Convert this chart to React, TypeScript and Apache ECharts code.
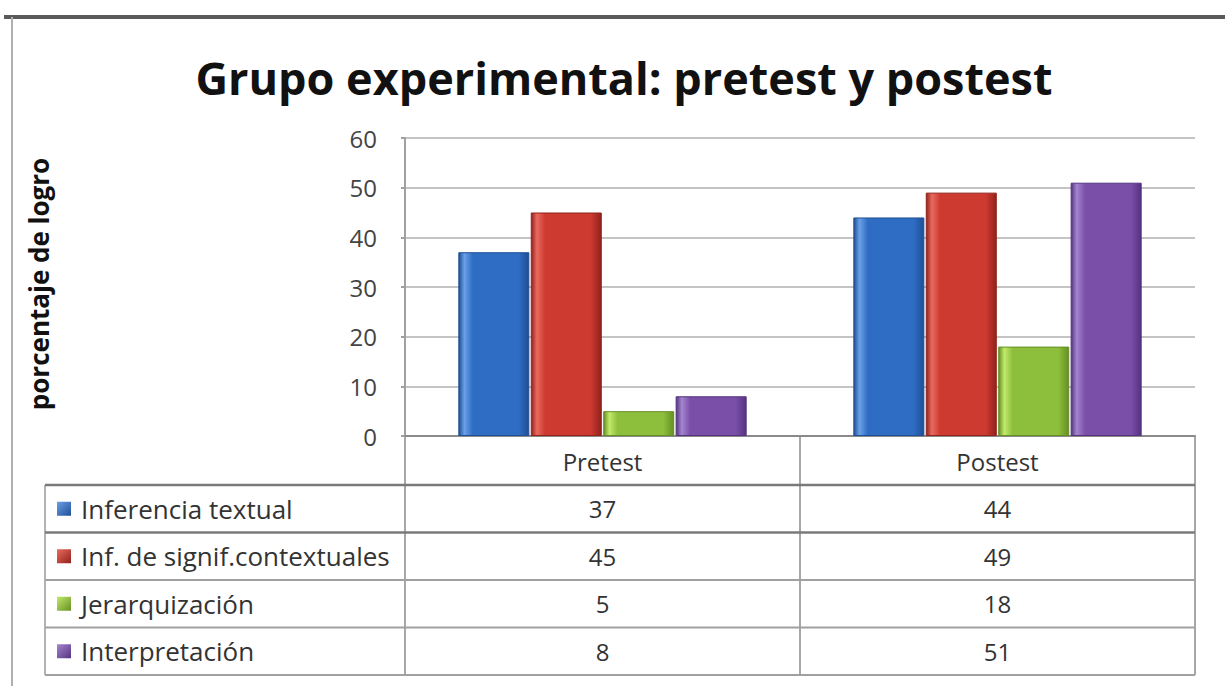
import React, { useEffect, useRef } from "react";
import * as echarts from "echarts";

// ---- data ----
const title = "Grupo experimental: pretest y postest";
const yAxisName = "porcentaje de logro";
const categories = ["Pretest", "Postest"];
const seriesNames = [
  "Inferencia textual",
  "Inf. de signif.contextuales",
  "Jerarquización",
  "Interpretación",
];
const inferenciaTextual = [37, 44];
const infSignifContextuales = [45, 49];
const jerarquizacion = [5, 18];
const interpretacion = [8, 51];
const seriesValues = [inferenciaTextual, infSignifContextuales, jerarquizacion, interpretacion];
const yMin = 0;
const yMax = 60;
const yInterval = 10;

// ---- style ----
const palette = [
  { light: "#6aa0e6", base: "#2f6dc4", dark: "#1f4f95" },
  { light: "#ea6a5f", base: "#cc3a30", dark: "#92221c" },
  { light: "#c2ea6a", base: "#8dbf3c", dark: "#668f25" },
  { light: "#a485cf", base: "#7a4fa8", dark: "#553380" },
];
const FONT = "'Open Sans', 'Noto Sans', sans-serif";

const W = 1225;
const H = 686;
const gridLeft = 405;
const gridRight = 1195;
const gridTop = 138;
const gridBottom = 436;
const headerBottom = 485;
const rowH = 47.5;
const tableLeft = 45;

export default function App() {
  const ref = useRef<HTMLDivElement>(null);

  useEffect(() => {
    if (!ref.current) return;
    const chart = echarts.init(ref.current, null, { renderer: "svg" });

    const colW = (gridRight - gridLeft) / categories.length;
    const graphics: any[] = [];

    // outer frame lines
    graphics.push({
      type: "line",
      shape: { x1: 4, y1: 17, x2: W, y2: 17 },
      style: { stroke: "#5a5a5a", lineWidth: 4 },
      silent: true,
    });
    graphics.push({
      type: "line",
      shape: { x1: 12, y1: 17, x2: 12, y2: H },
      style: { stroke: "#b0b0b0", lineWidth: 2 },
      silent: true,
    });

    // y axis name
    graphics.push({
      type: "text",
      x: 39,
      y: 284,
      rotation: Math.PI / 2,
      style: {
        text: yAxisName,
        font: `bold 26px ${FONT}`,
        fill: "#111",
        align: "center",
        verticalAlign: "middle",
      },
    });

    // table: vertical lines
    const vx = [gridLeft, ...categories.map((_, i) => gridLeft + colW * (i + 1))];
    const tableBottom = headerBottom + rowH * seriesNames.length;
    vx.forEach((x) => {
      graphics.push({
        type: "line",
        shape: { x1: x, y1: gridBottom, x2: x, y2: tableBottom },
        style: { stroke: "#8a8a8a", lineWidth: 1.5 },
        silent: true,
      });
    });
    graphics.push({
      type: "line",
      shape: { x1: tableLeft, y1: headerBottom, x2: tableLeft, y2: tableBottom },
      style: { stroke: "#9a9a9a", lineWidth: 1.5 },
      silent: true,
    });
    // horizontal lines
    for (let r = 0; r <= seriesNames.length; r++) {
      const y = headerBottom + rowH * r;
      graphics.push({
        type: "line",
        shape: { x1: tableLeft, y1: y, x2: gridRight, y2: y },
        style: { stroke: r <= 1 ? "#7a7a7a" : "#a0a0a0", lineWidth: r <= 1 ? 2.5 : 2 },
        silent: true,
      });
    }
    // rows
    seriesNames.forEach((name, r) => {
      const cy = headerBottom + rowH * (r + 0.5);
      const c = palette[r];
      graphics.push({
        type: "rect",
        shape: { x: 57, y: cy - 7, width: 14, height: 14 },
        style: {
          fill: new echarts.graphic.LinearGradient(0, 0, 1, 1, [
            { offset: 0, color: c.light },
            { offset: 1, color: c.dark },
          ]),
        },
      });
      graphics.push({
        type: "text",
        x: 81,
        y: cy,
        style: {
          text: name,
          font: `26px ${FONT}`,
          fill: "#333",
          align: "left",
          verticalAlign: "middle",
        },
      });
      seriesValues[r].forEach((v, i) => {
        graphics.push({
          type: "text",
          x: gridLeft + colW * (i + 0.5),
          y: cy,
          style: {
            text: String(v),
            font: `24px ${FONT}`,
            fill: "#333",
            align: "center",
            verticalAlign: "middle",
          },
        });
      });
    });

    const option: any = {
      animation: false,
      backgroundColor: "#ffffff",
      title: {
        text: title,
        left: 619,
        textAlign: "center",
        top: 50,
        textStyle: { fontFamily: FONT, fontSize: 45, fontWeight: "bold", color: "#111" },
      },
      grid: {
        left: gridLeft,
        right: W - gridRight,
        top: gridTop,
        bottom: H - gridBottom,
        containLabel: false,
      },
      xAxis: {
        type: "category",
        data: categories,
        axisLine: { show: true, lineStyle: { color: "#8a8a8a", width: 2 } },
        axisTick: { show: false },
        axisLabel: {
          fontFamily: FONT,
          fontSize: 24,
          color: "#333",
          margin: 13,
        },
      },
      yAxis: {
        type: "value",
        min: yMin,
        max: yMax,
        interval: yInterval,
        axisLine: { show: true, lineStyle: { color: "#a0a0a0", width: 2 } },
        axisTick: { show: true, length: 4, lineStyle: { color: "#a0a0a0", width: 2 } },
        axisLabel: { fontFamily: FONT, fontSize: 24, color: "#444", margin: 28 },
        splitLine: { show: true, lineStyle: { color: "#c4c4c4", width: 2 } },
      },
      series: seriesNames.map((name, i) => ({
        type: "bar",
        name,
        data: seriesValues[i],
        barGap: "2%",
        barCategoryGap: "27%",
        itemStyle: {
          color: new echarts.graphic.LinearGradient(0, 0, 1, 0, [
            { offset: 0, color: palette[i].dark },
            { offset: 0.08, color: palette[i].light },
            { offset: 0.2, color: palette[i].base },
            { offset: 0.85, color: palette[i].base },
            { offset: 1, color: palette[i].dark },
          ]),
          borderColor: palette[i].dark,
          borderWidth: 1,
        },
      })),
      graphic: graphics,
    };

    chart.setOption(option);
    return () => chart.dispose();
  }, []);

  return (
    <div
      ref={ref}
      style={{ position: "fixed", left: 0, top: 0, width: W, height: H, background: "#fff" }}
    />
  );
}
